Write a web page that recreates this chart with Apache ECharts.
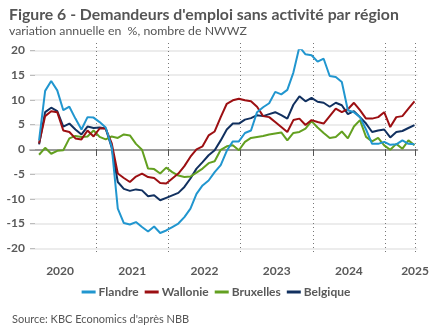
<!DOCTYPE html>
<html>
<head>
<meta charset="utf-8">
<script src="https://cdn.jsdelivr.net/npm/echarts@6/dist/echarts.min.js"></script>
<style>html,body{margin:0;padding:0;background:#fff}#c{width:432px;height:334px}</style>
</head>
<body>
<div id="c"></div>
<script>
// Monthly categories Feb 2020 .. May 2025
const months = [];
for (let y = 2020; y <= 2025; y++) {
  for (let m = 1; m <= 12; m++) {
    if (y === 2020 && m < 2) continue;
    if (y === 2025 && m > 5) break;
    months.push(y + '-' + String(m).padStart(2, '0'));
  }
}
const yearLabels = ['2020', '2021', '2022', '2023', '2024', '2025'];

const flandre = [null,1.8,11.8,13.8,11.9,7.9,8.6,6.2,4.0,6.5,6.4,5.5,4.4,0.5,-12.0,-14.9,-15.2,-14.7,-15.7,-16.6,-15.6,-16.9,-16.4,-15.7,-15.0,-13.7,-12.0,-9.0,-7.3,-6.3,-4.6,-3.2,-0.3,1.6,1.6,3.3,3.8,7.5,8.5,9.3,11.6,11.1,12.0,15.5,20.7,19.2,19.0,17.7,18.3,14.8,14.6,13.6,7.9,7.5,6.5,4.0,1.1,1.1,1.5,0.9,1.0,1.8,1.1,1.0];
const wallonie = [null,1.2,6.7,7.7,7.5,3.8,3.5,2.2,2.0,3.8,2.6,4.2,4.2,1.2,-4.9,-5.8,-6.6,-5.5,-4.9,-5.6,-5.8,-6.8,-6.9,-5.9,-4.9,-3.4,-1.5,0.0,0.6,2.8,3.6,6.5,9.2,9.9,10.2,9.9,9.7,8.6,6.7,6.5,5.5,4.5,3.5,5.9,6.2,4.9,5.9,5.5,5.2,6.7,8.2,7.5,8.1,9.4,7.9,6.2,6.2,6.5,7.5,4.5,6.5,6.7,8.2,9.7];
const bruxelles = [null,-1.1,0.3,-0.9,-0.3,-0.2,2.2,2.7,2.5,2.6,3.8,2.5,2.0,2.6,2.3,3.0,2.8,1.1,-0.1,-3.9,-4.0,-4.9,-3.7,-4.6,-5.3,-5.6,-5.5,-4.7,-3.9,-2.8,-2.4,-0.1,0.6,0.8,-0.2,1.5,2.3,2.5,2.7,3.0,3.2,3.4,1.8,3.3,3.5,4.2,5.7,4.4,3.3,2.3,2.5,3.6,2.2,4.6,5.9,2.5,1.6,2.3,0.8,-0.1,1.1,0.1,1.8,0.8];
const belgique = [null,1.0,7.5,8.4,7.7,4.6,5.2,4.0,3.0,4.6,4.3,4.4,4.2,0.3,-6.6,-8.0,-8.4,-8.1,-8.3,-9.5,-9.3,-10.3,-9.8,-9.3,-8.8,-7.6,-5.9,-3.9,-2.6,-1.2,-0.2,1.8,4.0,5.2,5.2,6.0,6.3,6.9,6.7,7.1,7.5,6.9,6.2,9.0,10.7,9.7,10.4,9.6,9.4,8.6,9.4,8.9,7.1,7.7,6.5,5.2,3.5,3.8,4.0,2.4,3.5,3.7,4.3,4.9];

const seriesNames = ['Flandre', 'Wallonie', 'Bruxelles', 'Belgique'];
const seriesData = [flandre, wallonie, bruxelles, belgique];
const colors = ['#2196cf', '#9c0f12', '#63a020', '#11305f'];

// label positions: mid-year (boundary before July) in band units; clamp to axis end
const labelPos = yearLabels.map(y => {
  const i = months.indexOf(y + '-07');
  return i >= 0 ? i : months.length;
});

const isJan = (i) => months[i] && months[i].endsWith('-01');
const txt = '#595959';
const FONT = 'Lato';

const chart = echarts.init(document.getElementById('c'), null, {renderer: 'canvas'});
chart.setOption({
  animation: false,
  color: colors,
  title: [
    {
      text: "Figure 6 - Demandeurs d'emploi sans activité par région",
      subtext: 'variation annuelle en  %, nombre de NWWZ',
      left: 4, top: 2, itemGap: 2,
      textStyle: {fontFamily: FONT, fontWeight: 'bold', fontSize: 15.8, color: '#555'},
      subtextStyle: {fontFamily: FONT, fontSize: 12.3, color: '#555'}
    },
    {
      text: "Source: KBC Economics d'après NBB",
      left: 7, top: 309,
      textStyle: {fontFamily: FONT, fontWeight: 'normal', fontSize: 11, color: '#555'}
    }
  ],
  legend: {
    data: seriesNames,
    left: 'center', top: 281,
    itemWidth: 14, itemHeight: 3, itemGap: 6,
    icon: 'rect',
    textStyle: {fontFamily: FONT, fontWeight: 'bold', fontSize: 12, color: txt, padding: [0, 0, 0, -2]}
  },
  grid: [
    {left: 30, right: 14.5, top: 50.3, bottom: 85.7, containLabel: false},
    {left: 30, right: 14.5, top: 43, bottom: 79, containLabel: false}
  ],
  xAxis: [
    {
      type: 'category', gridIndex: 0, data: months, boundaryGap: true,
      axisLine: {show: true, onZero: true, lineStyle: {color: '#7f7f7f', width: 1.5}},
      axisTick: {show: false}, axisLabel: {show: false}, splitLine: {show: false}
    },
    {
      type: 'category', gridIndex: 1, data: months, boundaryGap: true,
      axisLine: {show: false},
      axisTick: {show: true, interval: (i) => isJan(i), length: 7, lineStyle: {color: '#555', width: 1}},
      axisLabel: {show: false},
      splitLine: {show: true, interval: (i) => isJan(i), lineStyle: {color: '#777', width: 1, type: [1, 3]}}
    },
    {
      type: 'value', gridIndex: 1, min: 0, max: months.length, position: 'bottom',
      axisLine: {show: false}, axisTick: {show: false}, splitLine: {show: false},
      axisLabel: {
        show: true, customValues: labelPos, margin: 10,
        formatter: (v) => yearLabels[labelPos.indexOf(v)] || '',
        fontFamily: FONT, fontWeight: 'bold', fontSize: 12, color: txt
      }
    }
  ],
  yAxis: [
    {
      type: 'value', gridIndex: 0, min: -20, max: 20, interval: 5,
      axisLine: {show: false},
      axisTick: {show: true, inside: true, length: 5, lineStyle: {color: '#bdbdbd', width: 1}},
      axisLabel: {fontFamily: FONT, fontWeight: 'bold', fontSize: 12, color: txt, margin: 5},
      splitLine: {show: true, lineStyle: {color: '#e6e6e6', width: 1.5}}
    },
    {type: 'value', gridIndex: 1, min: -1, max: 1, show: false}
  ],
  series: seriesNames.map((n, k) => ({
    name: n, type: 'line', xAxisIndex: 0, yAxisIndex: 0,
    data: seriesData[k], showSymbol: false, symbol: 'none',
    lineStyle: {width: 2, color: colors[k]},
    itemStyle: {color: colors[k]},
    z: 10 - k
  }))
});
</script>
</body>
</html>
